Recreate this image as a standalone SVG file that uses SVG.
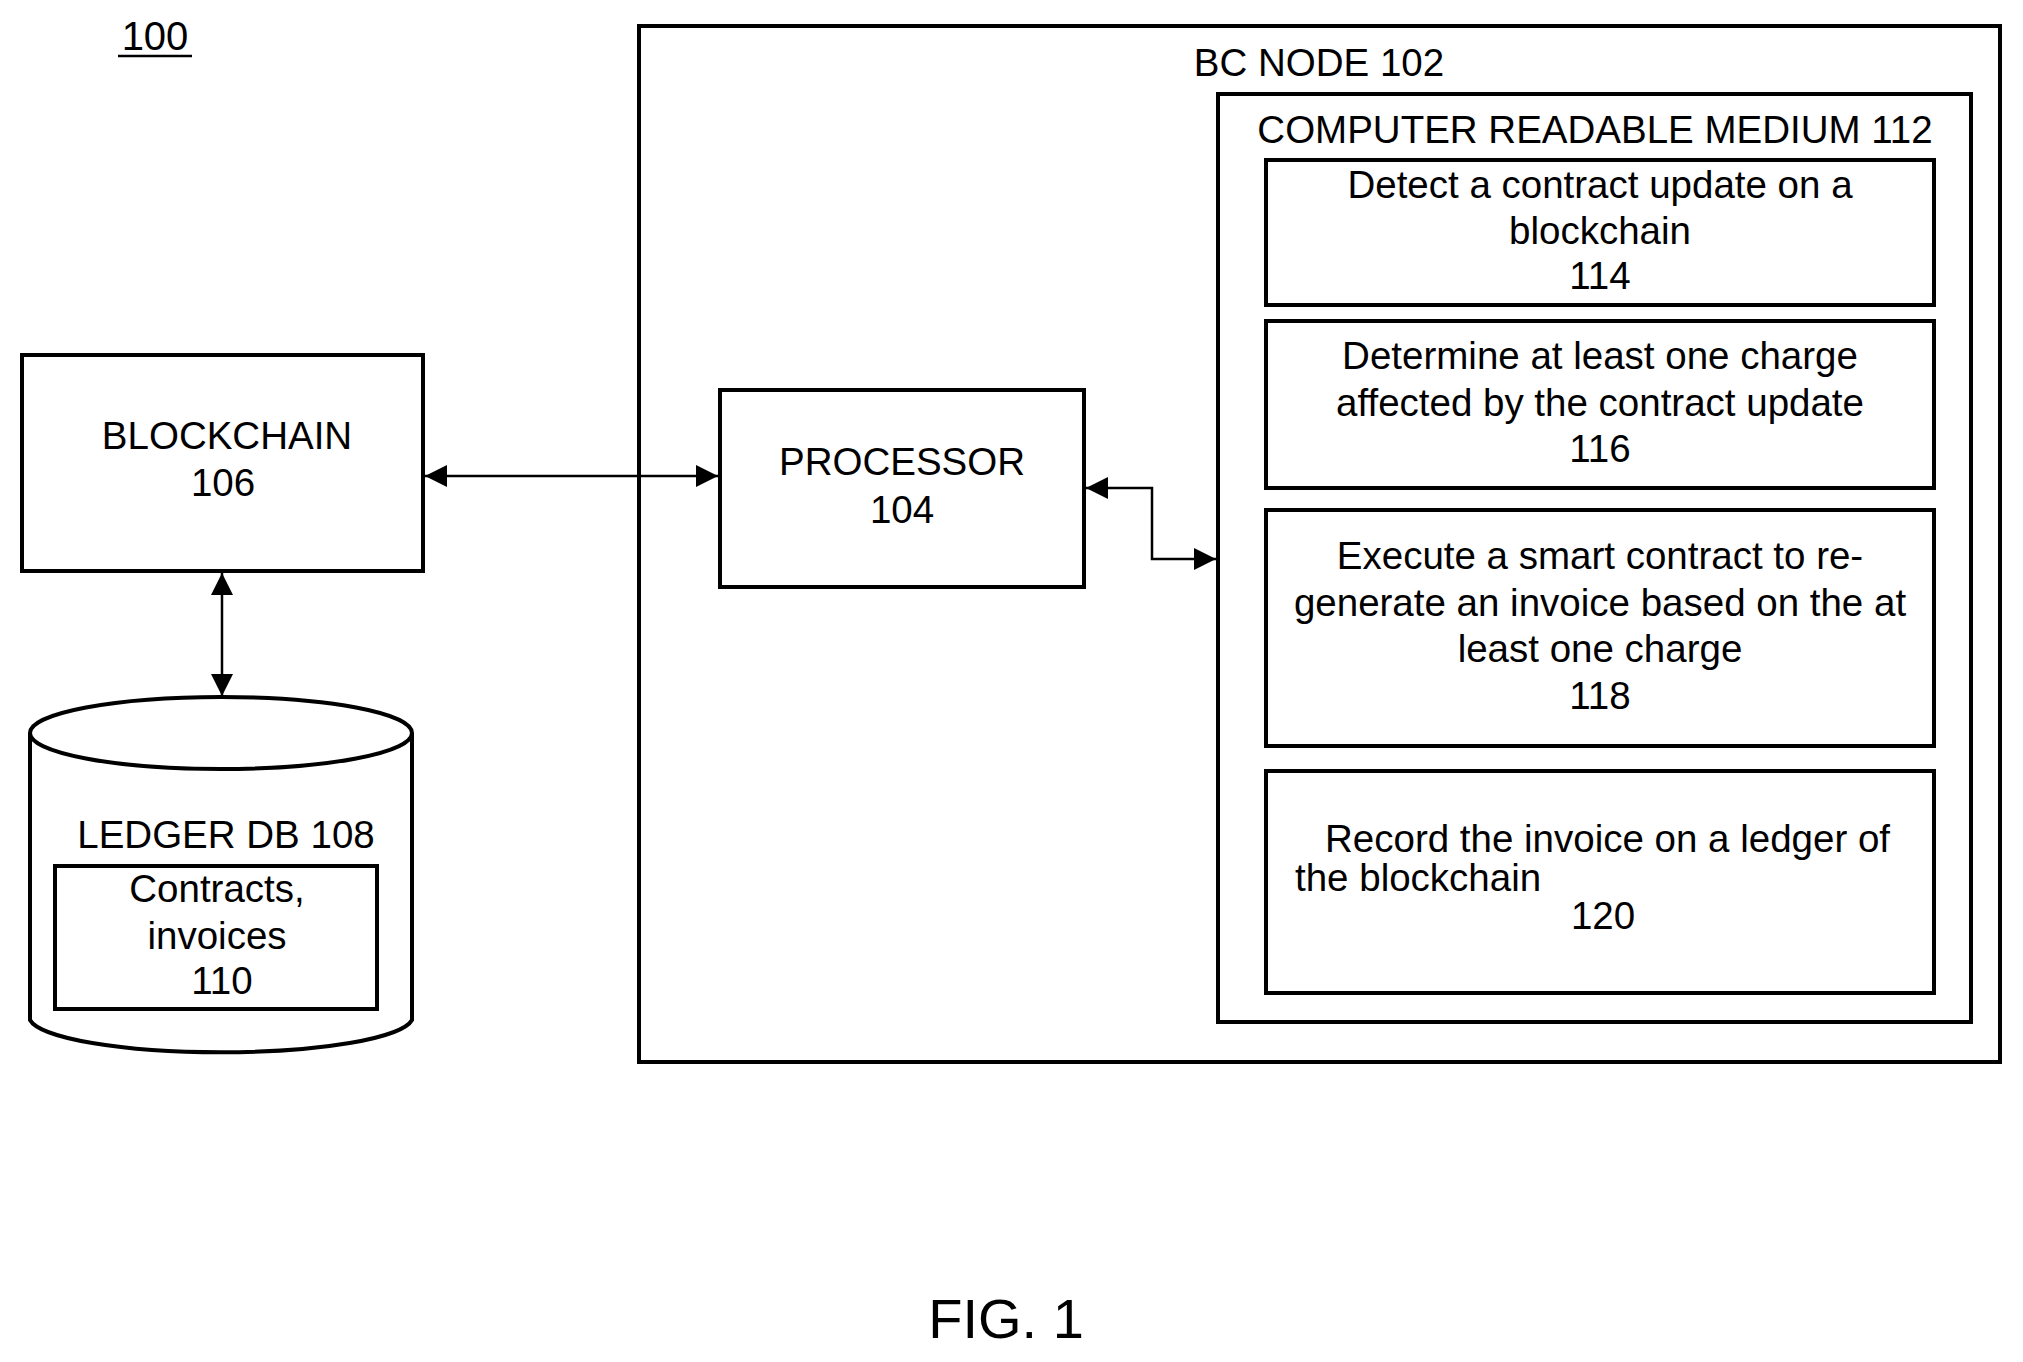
<svg xmlns="http://www.w3.org/2000/svg" width="2023" height="1362" viewBox="0 0 2023 1362">
<style>
text{font-family:"Liberation Sans",Arial,sans-serif;font-size:38.5px;fill:#000;text-anchor:middle}
text.s{text-anchor:start}
text.big{font-size:40px}
text.fig{font-size:56px}
.b{fill:#fff;stroke:#000;stroke-width:4}
.c{fill:none;stroke:#000;stroke-width:2.5}
</style>
<defs>
<marker id="m" viewBox="0 0 10 10" refX="10" refY="5" markerWidth="30" markerHeight="22" markerUnits="userSpaceOnUse" orient="auto-start-reverse"><path d="M0,0L10,5L0,10z"/></marker>
</defs>
<g id="label100"><text class="big" x="155" y="50">100</text><line x1="118" y1="56" x2="192" y2="56" stroke="#000" stroke-width="2.5"/></g>
<g id="bcnode"><rect class="b" x="639" y="26" width="1361" height="1036"/><text x="1319" y="76">BC NODE 102</text></g>
<g id="crm"><rect class="b" x="1218" y="94" width="753" height="928"/><text x="1595" y="143">COMPUTER READABLE MEDIUM 112</text></g>
<g id="n114"><rect class="b" x="1266" y="160" width="668" height="145"/><text x="1600" y="198">Detect a contract update on a</text><text x="1600" y="244">blockchain</text><text x="1600" y="289">114</text></g>
<g id="n116"><rect class="b" x="1266" y="321" width="668" height="167"/><text x="1600" y="369">Determine at least one charge</text><text x="1600" y="416">affected by the contract update</text><text x="1600" y="462">116</text></g>
<g id="n118"><rect class="b" x="1266" y="510" width="668" height="236"/><text x="1600" y="569">Execute a smart contract to re-</text><text x="1600" y="616">generate an invoice based on the at</text><text x="1600" y="662">least one charge</text><text x="1600" y="709">118</text></g>
<g id="n120"><rect class="b" x="1266" y="771" width="668" height="222"/><text class="s" x="1325" y="852">Record the invoice on a ledger of</text><text class="s" x="1295" y="891">the blockchain</text><text x="1603" y="929">120</text></g>
<g id="blockchain"><rect class="b" x="22" y="355" width="401" height="216"/><text x="227" y="449">BLOCKCHAIN</text><text x="223" y="496">106</text></g>
<g id="processor"><rect class="b" x="720" y="390" width="364" height="197"/><text x="902" y="475">PROCESSOR</text><text x="902" y="523">104</text></g>
<g id="ledger"><path class="b" d="M30,733 V1020 A192,36 0 0 0 412,1020 V733"/><ellipse class="b" cx="221" cy="733" rx="191" ry="36"/><text x="226" y="848">LEDGER DB 108</text><rect class="b" x="55" y="866" width="322" height="143"/><text x="217" y="902">Contracts,</text><text x="217" y="949">invoices</text><text x="222" y="994">110</text></g>
<g id="connectors">
<line class="c" x1="425" y1="476" x2="718" y2="476" marker-start="url(#m)" marker-end="url(#m)"/>
<polyline class="c" points="1086,488 1152,488 1152,559 1216,559" marker-start="url(#m)" marker-end="url(#m)"/>
<line class="c" x1="222" y1="573" x2="222" y2="696" marker-start="url(#m)" marker-end="url(#m)"/>
</g>
<text class="fig" x="1006" y="1338">FIG. 1</text>
</svg>
